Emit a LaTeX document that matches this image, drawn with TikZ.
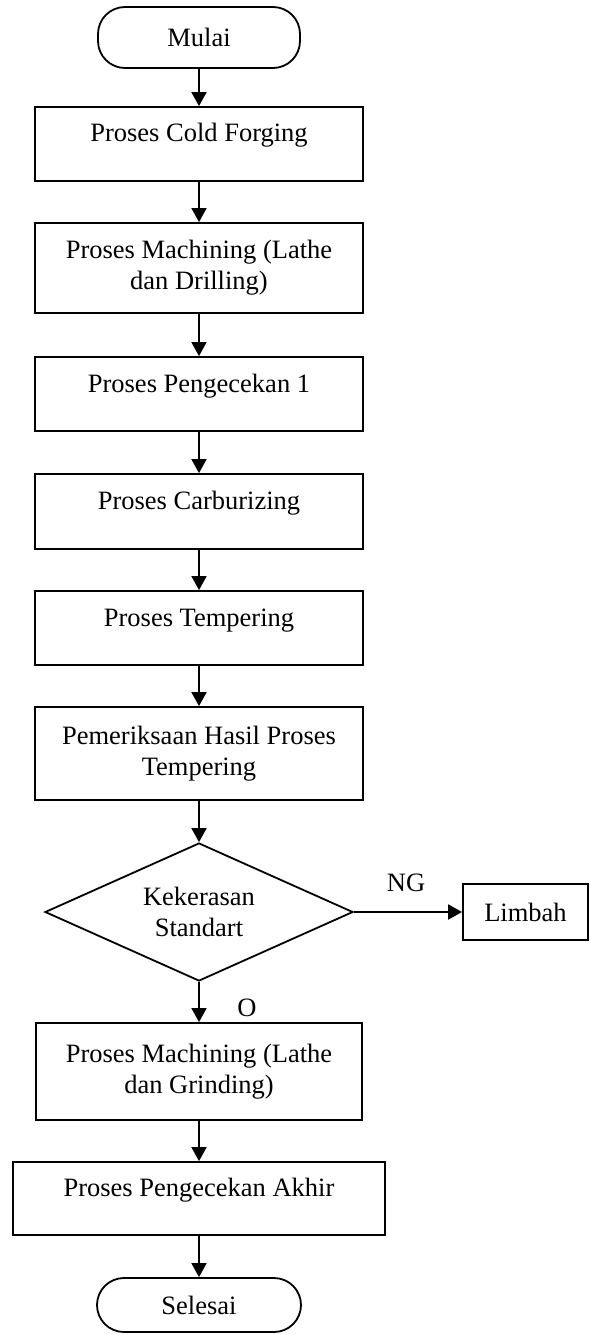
\documentclass[tikz,border=0pt]{standalone}
\usepackage{fontspec}
\setmainfont{Liberation Serif}
\usetikzlibrary{arrows.meta,shapes.geometric}
\begin{document}
\begin{tikzpicture}[x=1pt,y=-1pt,
  every node/.style={font=\fontsize{26.5}{31}\selectfont},
  box/.style={draw,line width=1.8pt,rectangle,minimum width=328pt,inner sep=0pt,align=center},
  onel/.style={text height=14pt,text depth=18pt},
  term/.style={draw,line width=1.8pt,rectangle,rounded corners=27pt,minimum width=202pt,inner sep=0pt},
  dec/.style={draw,line width=1.8pt,diamond,aspect=2.23,minimum width=308pt,minimum height=138pt,inner sep=0pt,align=center},
  arr/.style={-{Triangle[width=15pt,length=14pt]},line width=1.8pt},
  lbl/.style={inner sep=0pt}
]
\useasboundingbox (0,0) rectangle (589,1335);
\node[term,minimum height=61pt] (m) at (199,37.5) {Mulai};
\node[box,onel,minimum height=74pt] (b1) at (199,144) {Proses Cold Forging};
\node[box,minimum height=90pt] (b2) at (199,268) {Proses Machining (Lathe\\dan Drilling)};
\node[box,onel,minimum height=74pt] (b3) at (199,394) {Proses Pengecekan 1};
\node[box,onel,minimum height=75pt] (b4) at (199,511.5) {Proses Carburizing};
\node[box,onel,minimum height=74pt] (b5) at (199,628) {Proses Tempering};
\node[box,minimum height=93pt] (b6) at (199,753.5) {Pemeriksaan Hasil Proses\\Tempering};
\node[dec] (d) at (199,912) {Kekerasan\\Standart};
\node[box,minimum width=125pt,minimum height=56pt] (L) at (525.5,912) {Limbah};
\node[box,minimum width=326pt,minimum height=97pt] (b7) at (199,1071.5) {Proses Machining (Lathe\\dan Grinding)};
\node[box,onel,minimum width=372pt,minimum height=73pt] (b8) at (199,1198.5) {Proses Pengecekan Akhir};
\node[term,minimum width=204pt,minimum height=54pt] (s) at (199,1305) {Selesai};
\node[lbl] (ng) at (406,883) {NG};
\node[lbl] (ok) at (247,1008) {O};
\draw[arr] (m.south) -- (b1.north);
\draw[arr] (b1.south) -- (b2.north);
\draw[arr] (b2.south) -- (b3.north);
\draw[arr] (b3.south) -- (b4.north);
\draw[arr] (b4.south) -- (b5.north);
\draw[arr] (b5.south) -- (b6.north);
\draw[arr] (b6.south) -- (d.north);
\draw[arr] (d.east) -- (L.west);
\draw[arr] (d.south) -- (b7.north);
\draw[arr] (b7.south) -- (b8.north);
\draw[arr] (b8.south) -- (s.north);
\end{tikzpicture}
\end{document}
